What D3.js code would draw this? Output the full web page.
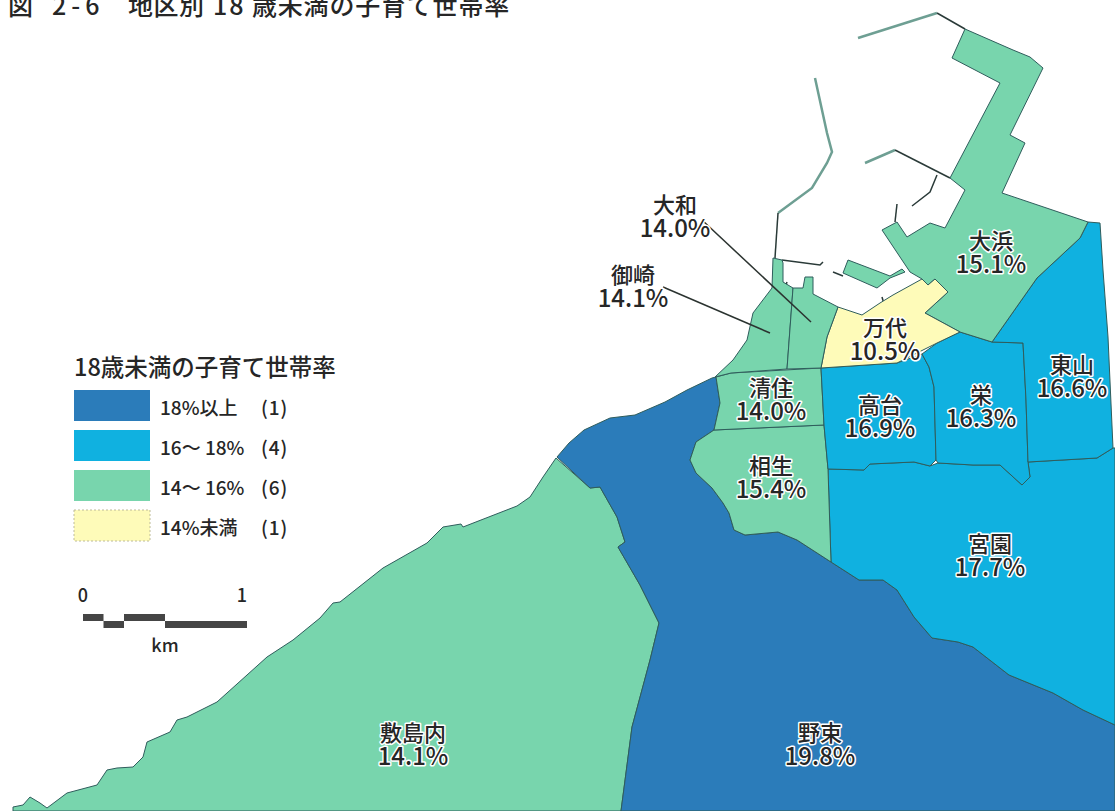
<!DOCTYPE html>
<html lang="ja">
<head>
<meta charset="utf-8">
<title>図 2-6 地区別 18 歳未満の子育て世帯率</title>
<script src="https://cdn.jsdelivr.net/npm/d3@7"></script>
<style>
  html, body { margin: 0; background: #fff; }
  svg { display: block; }
  text { font-family: "Noto Sans CJK JP", "Noto Sans", sans-serif; fill: #262626; font-weight: 500; }
  .district { stroke: #2f5d5c; stroke-width: 1; stroke-linejoin: round; }
  .halo { paint-order: stroke; stroke: #fff; stroke-width: 3px; stroke-linejoin: round; }
</style>
</head>
<body>
<div id="chart"></div>
<script>
const WIDTH = 1115;
const HEIGHT = 811;

// districts and their rate (%)
const districtNames = ["敷島内", "野束", "宮園", "相生", "清住", "高台", "栄", "東山", "大浜", "万代", "御崎", "大和"];
const districtRates = [14.1, 19.8, 17.7, 15.4, 14.0, 16.9, 16.3, 16.6, 15.1, 10.5, 14.1, 14.0];

// map outlines, in map units, same order as districtNames
const districtRings = [
  [[[556, 458], [590, 488], [600, 487], [617, 517], [625, 542], [618, 547], [640, 585], [659, 623], [650, 660], [632, 727], [621, 811], [13, 811], [13, 807], [23, 805], [30, 797], [40, 803], [47, 808], [67, 793], [97, 785], [107, 770], [117, 768], [133, 767], [143, 757], [147, 742], [170, 732], [177, 720], [187, 717], [217, 702], [247, 675], [267, 657], [293, 640], [320, 618], [333, 603], [340, 602], [383, 568], [427, 543], [443, 527], [461, 524], [463, 527], [517, 506], [530, 497], [543, 477]]],
  [[[716, 377], [712, 378], [687, 390], [665, 402], [635, 415], [610, 418], [584, 430], [569, 443], [557, 457], [590, 488], [600, 487], [617, 517], [625, 542], [618, 547], [640, 585], [659, 623], [650, 660], [632, 727], [621, 811], [1115, 811], [1115, 725], [1083, 710], [1053, 693], [1009, 675], [973, 647], [958, 642], [932, 638], [914, 617], [897, 590], [883, 580], [859, 580], [831, 562], [797, 540], [778, 532], [745, 535], [734, 530], [729, 513], [723, 503], [712, 488], [696, 473], [690, 460], [696, 442], [714, 430], [720, 403]]],
  [[[828, 469], [864, 470], [870, 464], [914, 462], [930, 466], [938, 463], [973, 465], [1000, 465], [1022, 485], [1030, 477], [1028, 462], [1097, 458], [1113, 448], [1115, 448], [1115, 725], [1083, 710], [1053, 693], [1009, 675], [973, 647], [958, 642], [932, 638], [914, 617], [897, 590], [883, 580], [859, 580], [831, 562]]],
  [[[714, 430], [824, 425], [828, 469], [831, 562], [797, 540], [778, 532], [745, 535], [734, 530], [729, 513], [723, 503], [712, 488], [696, 473], [690, 460], [696, 442]]],
  [[[716, 377], [731, 373], [821, 368], [824, 425], [714, 430], [720, 403]]],
  [[[821, 368], [897, 363], [922, 354], [929, 367], [934, 387], [936, 460], [930, 466], [914, 462], [870, 464], [864, 470], [828, 469], [824, 425]]],
  [[[922, 354], [937, 343], [960, 332], [992, 342], [1023, 343], [1026, 400], [1028, 462], [1030, 477], [1022, 485], [1000, 465], [973, 465], [938, 463], [936, 460], [934, 387], [929, 367]]],
  [[[1088, 222], [1100, 223], [1103, 270], [1108, 337], [1113, 448], [1097, 458], [1028, 462], [1026, 400], [1023, 343], [992, 342], [1037, 278], [1080, 238]]],
  [
    [[965, 29], [1013, 50], [1030, 57], [1043, 68], [1010, 135], [1025, 143], [1002, 193], [1088, 222], [1080, 238], [1037, 278], [992, 342], [960, 332], [925, 313], [948, 292], [935, 279], [928, 285], [922, 279], [910, 272], [882, 230], [897, 222], [907, 237], [930, 223], [945, 228], [965, 190], [950, 178], [1000, 83], [952, 58]],
    [[848, 260], [843, 273], [877, 288], [890, 278], [905, 272], [902, 269], [890, 276]]
  ],
  [[[838, 307], [862, 315], [880, 303], [893, 295], [922, 279], [928, 285], [935, 279], [948, 292], [925, 313], [960, 332], [937, 343], [897, 363], [821, 368], [827, 337]]],
  [[[773, 258], [772, 288], [753, 313], [747, 340], [733, 360], [715, 377], [731, 373], [787, 369], [793, 288], [783, 282], [783, 263], [782, 260]]],
  [[[793, 288], [803, 288], [805, 277], [813, 277], [813, 294], [838, 307], [827, 337], [821, 368], [787, 369]]]
];

// breakwaters and quay lines
const breakwaterLines = [
  [[858, 38], [937, 13]],
  [[815, 78], [827, 133], [832, 152], [827, 163], [812, 188], [778, 213]],
  [[865, 163], [895, 150]]
];
const quayLines = [
  [[937, 13], [965, 29]],
  [[778, 213], [775, 258]],
  [[782, 260], [820, 265], [823, 262]],
  [[895, 150], [950, 178]],
  [[937, 175], [930, 192], [912, 206]],
  [[897, 204], [895, 222]],
  [[833, 272], [843, 276]],
  [[787, 282], [786, 285]],
  [[882, 297], [884, 304]]
];

// label anchors in map units, same order as districtNames
const labelPositions = [[413, 742], [820, 742], [990, 553], [771, 475], [771, 397], [880, 414], [981, 404], [1072, 374], [991, 250], [885, 337], [633, 284], [675, 214]];

// leader lines for 御崎 and 大和
const leaderLines = [
  [[663, 287], [770, 333]],
  [[702, 220], [811, 322]]
];

// legend
const legendColors = ["#2b7cba", "#10b1e0", "#78d5ad", "#fefbb9"];
const legendLabels = ["18%以上", "16～ 18%", "14～ 16%", "14%未満"];
const classBreaks = [14, 16, 18];

// scale bar, km
const scaleBarStops = [0, 0.125, 0.25, 0.5, 1];

const colorScale = d3.scaleThreshold()
  .domain(classBreaks)
  .range(legendColors.slice().reverse());

const svg = d3.select("#chart")
  .append("svg")
  .attr("width", WIDTH)
  .attr("height", HEIGHT)
  .attr("viewBox", `0 0 ${WIDTH} ${HEIGHT}`);

const pathGenerator = d3.geoPath(d3.geoIdentity());
const lineGenerator = d3.line();

// d3 drops the last point of a ring, so close them first
const features = districtNames.map((name, i) => ({
  type: "Feature",
  properties: { name, rate: districtRates[i], label: labelPositions[i] },
  geometry: {
    type: "MultiPolygon",
    coordinates: districtRings[i].map((ring) => [[...ring, ring[0]]])
  }
}));

// title runs off the top of the sheet
const title = svg.append("text")
  .attr("y", 15)
  .attr("font-size", 25);
[["図", 8, 0], ["2-6", 52, 5], ["地区別", 128, 0.5], ["18", 213, 2], ["歳未満の子育て世帯率", 252, 0.8]].forEach(([part, x, spacing]) => {
  title.append("tspan").attr("x", x).attr("letter-spacing", spacing).text(part);
});

const mapLayer = svg.append("g").attr("class", "map");

mapLayer.selectAll(".breakwater")
  .data(breakwaterLines)
  .join("path")
  .attr("class", "breakwater")
  .attr("d", lineGenerator)
  .attr("fill", "none")
  .attr("stroke", "#6e9f93")
  .attr("stroke-width", 2.5);

mapLayer.selectAll(".quay")
  .data(quayLines)
  .join("path")
  .attr("class", "quay")
  .attr("d", lineGenerator)
  .attr("fill", "none")
  .attr("stroke", "#2a3a38")
  .attr("stroke-width", 1.5);

mapLayer.selectAll(".district")
  .data(features)
  .join("path")
  .attr("class", "district")
  .attr("d", pathGenerator)
  .attr("fill", (d) => colorScale(d.properties.rate));

mapLayer.selectAll(".leader")
  .data(leaderLines)
  .join("path")
  .attr("class", "leader")
  .attr("d", lineGenerator)
  .attr("fill", "none")
  .attr("stroke", "#2b3330")
  .attr("stroke-width", 1.5);

const labels = svg.append("g").attr("class", "labels")
  .selectAll("text")
  .data(features)
  .join("text")
  .attr("class", "halo")
  .attr("text-anchor", "middle")
  .attr("transform", (d) => `translate(${d.properties.label})`);

labels.append("tspan")
  .attr("x", 0)
  .attr("y", -1)
  .attr("font-size", 22)
  .text((d) => d.properties.name);

labels.append("tspan")
  .attr("x", 0)
  .attr("y", 23)
  .attr("font-size", 24)
  .text((d) => `${d.properties.rate.toFixed(1)}%`);

// legend
const legendY = d3.scalePoint()
  .domain(legendLabels)
  .range([390, 510]);

const legend = svg.append("g").attr("class", "legend");

legend.append("text")
  .attr("x", 74)
  .attr("y", 376)
  .attr("font-size", 23.5)
  .text("18歳未満の子育て世帯率");

const classCounts = d3.rollup(districtRates, (v) => v.length, (rate) => colorScale(rate));

const legendRows = legend.selectAll(".legend-row")
  .data(legendLabels)
  .join("g")
  .attr("class", "legend-row")
  .attr("transform", (d) => `translate(74,${legendY(d)})`);

legendRows.append("rect")
  .attr("width", 76)
  .attr("height", 31)
  .attr("fill", (d, i) => legendColors[i])
  .attr("stroke", (d, i) => (i === 3 ? "#bdbb9a" : "none"))
  .attr("stroke-dasharray", "2 2");

legendRows.append("text")
  .attr("x", 86)
  .attr("y", 25)
  .attr("font-size", 19)
  .text((d) => d);

legendRows.append("text")
  .attr("x", 187)
  .attr("y", 25)
  .attr("font-size", 19)
  .attr("letter-spacing", 1)
  .text((d, i) => `(${classCounts.get(legendColors[i])})`);

// scale bar
const scaleX = d3.scaleLinear().domain([0, 1]).range([83, 247]);
const scaleBar = svg.append("g").attr("class", "scale-bar");

scaleBar.selectAll("rect")
  .data(d3.pairs(scaleBarStops))
  .join("rect")
  .attr("x", (d) => scaleX(d[0]))
  .attr("y", (d, i) => (i % 2 === 0 ? 614 : 621))
  .attr("width", (d) => scaleX(d[1]) - scaleX(d[0]))
  .attr("height", 7)
  .attr("fill", "#454545");

scaleBar.selectAll(".scale-tick")
  .data([0, 1])
  .join("text")
  .attr("class", "scale-tick")
  .attr("x", (d) => scaleX(d))
  .attr("y", 602)
  .attr("text-anchor", (d) => (d === 0 ? "middle" : "end"))
  .attr("font-size", 18)
  .text((d) => d);

scaleBar.append("text")
  .attr("x", scaleX(0.5))
  .attr("y", 652)
  .attr("text-anchor", "middle")
  .attr("font-size", 18)
  .text("km");
</script>
</body>
</html>
